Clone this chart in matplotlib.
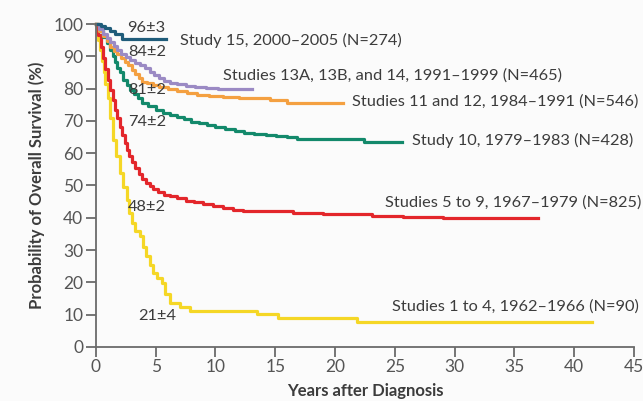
import matplotlib

matplotlib.use("Agg")
import matplotlib.pyplot as plt

# survival curves (years, percent surviving), step-post
t_s15 = [0, 0.4, 0.8, 1.2, 1.6, 2.2, 5.9]
s_s15 = [100, 99.4, 98.7, 97.8, 96.8, 95.3, 95.3]

t_s13 = [0, 0.3, 0.6, 0.9, 1.2, 1.5, 1.8, 2.1, 2.5, 2.9, 3.3, 3.7, 4.1, 4.5, 4.9,
         5.3, 5.7, 6.2, 6.8, 7.5, 8.3, 9.2, 10.2, 11.0, 13.1]
s_s13 = [100, 98.5, 97, 95.8, 94.5, 93.2, 92, 90.8, 89.8, 88.8, 88, 87.2, 86.3, 85.3, 84.3,
         83.3, 82.5, 81.8, 81.3, 80.8, 80.5, 80.2, 80, 80, 80]

t_s11 = [0, 0.3, 0.6, 0.9, 1.2, 1.5, 1.8, 2.1, 2.4, 2.7, 3.0, 3.3, 3.6, 3.9, 4.3, 4.8,
         5.3, 6.0, 6.8, 7.6, 8.5, 9.5, 10.6, 12.0, 13.4, 14.6, 16.0, 20.7]
s_s11 = [100, 98, 96.3, 94.6, 93, 91.8, 90.6, 89.4, 88.3, 87.2, 85.8, 84.5, 83.2, 82.2, 81.6, 81.1,
         80.6, 80.0, 79.4, 78.6, 78.1, 77.8, 77.5, 77.2, 77, 76.6, 75.6, 75.6]

t_s10 = [0, 0.3, 0.6, 0.9, 1.2, 1.4, 1.6, 1.8, 2.0, 2.3, 2.6, 2.9, 3.2, 3.5, 3.9, 4.4,
         5.0, 5.6, 6.2, 6.8, 7.4, 8.0, 8.6, 9.3, 10.0, 10.8, 11.6, 12.4, 13.2, 14.2,
         15.1, 16.0, 16.8, 22.4, 25.6]
s_s10 = [100, 98, 96, 94, 92, 90, 88.2, 86.5, 85, 82.7, 81, 79.6, 78.2, 77, 75.6, 74.5,
         73.5, 72.6, 71.8, 71.2, 70.5, 69.8, 69.2, 68.6, 68.1, 67.6, 66.9, 66.2, 65.8, 65.5,
         65.3, 64.9, 64.3, 63.4, 63.4]

t_s5 = [0, 0.2, 0.4, 0.6, 0.8, 1.0, 1.2, 1.4, 1.6, 1.8, 2.0, 2.2, 2.4, 2.6, 2.8, 3.0,
        3.3, 3.6, 3.9, 4.2, 4.5, 4.8, 5.2, 5.7, 6.2, 6.8, 7.5, 8.2, 9.0, 9.8, 10.6,
        11.5, 12.3, 16.5, 19.0, 23.1, 25.7, 29.0, 37.0]
s_s5 = [100, 96.5, 93, 89.5, 86, 82.7, 79.5, 76.5, 73.5, 70.8, 68, 65.6, 63.2, 61, 59, 57.3,
        55.3, 53.5, 52, 50.8, 49.7, 48.8, 48, 47.2, 46.6, 46, 45.3, 44.8, 44.2, 43.6, 42.9,
        42.5, 42.1, 41.6, 41.1, 40.6, 40.2, 39.8, 39.8]

t_s1 = [0, 0.1, 0.2, 0.35, 0.5, 0.65, 0.8, 1.0, 1.2, 1.45, 1.7, 2.0, 2.3, 2.6, 2.8, 3.0,
        3.3, 3.7, 3.95, 4.2, 4.5, 4.8, 5.1, 5.5, 5.8, 6.2, 7.0, 7.9, 13.5, 15.2, 21.8, 41.5]
s_s1 = [100, 97.5, 95, 92, 88.5, 85, 81.5, 77, 71, 64, 59, 53.8, 49.5, 45.5, 41.5, 38.3,
        36, 34.2, 31, 28, 25.4, 22.8, 21.2, 19.7, 16.5, 13.5, 12.5, 11.2, 10.2, 9.0, 7.7, 7.7]

labels = [
    "Studies 1 to 4, 1962\u20131966 (N=90)",
    "Studies 5 to 9, 1967\u20131979 (N=825)",
    "Study 10, 1979\u20131983 (N=428)",
    "Studies 11 and 12, 1984\u20131991 (N=546)",
    "Studies 13A, 13B, and 14, 1991\u20131999 (N=465)",
    "Study 15, 2000\u20132005 (N=274)",
]
five_year = ["21\u00b14", "48\u00b12", "74\u00b12", "81\u00b12", "84\u00b12", "96\u00b13"]

curves = [(t_s1, s_s1), (t_s5, s_s5), (t_s10, s_s10),
          (t_s11, s_s11), (t_s13, s_s13), (t_s15, s_s15)]
colors = ["#f5d726", "#e3262b", "#13896b", "#f4a041", "#9b8ac4", "#1f5c7a"]
# label anchors (x = left edge, y = centre), data coords
label_pos = [(24.8, 12.4), (24.2, 44.7), (26.4, 63.8), (21.4, 76.0), (10.6, 84.2), (7.0, 95.0)]
fy_pos = [(5.1, 9.6), (4.3, 43.3), (4.3, 69.7), (4.3, 79.6), (4.3, 91.2), (4.2, 98.8)]

plt.rcParams["font.family"] = ["Lato", "DejaVu Sans"]
text_c = "#3c3c3c"
axis_c = "#6a6a6a"

fig = plt.figure(figsize=(6.43, 4.01), dpi=100, facecolor="#fbfbfb")
ax = fig.add_axes([0.149, 0.135, 0.837, 0.805])
ax.set_facecolor("#fbfbfb")

for (t, s), c in zip(curves, colors):
    ax.step(t, s, where="post", color=c, lw=2.3, clip_on=False)

for lab, (x, y) in zip(labels, label_pos):
    ax.text(x, y, lab, fontsize=11.8, color=text_c, ha="left", va="center")
for lab, (x, y) in zip(five_year, fy_pos):
    ax.text(x, y, lab, fontsize=11.8, color=text_c, ha="center", va="center")

ax.set_xlim(0, 45)
ax.set_ylim(0, 100)
ax.set_xticks(range(0, 46, 5))
ax.set_yticks(range(0, 101, 10))
for sp in ["top", "right"]:
    ax.spines[sp].set_visible(False)
for sp in ["left", "bottom"]:
    ax.spines[sp].set_color(axis_c)
    ax.spines[sp].set_linewidth(1.3)
ax.tick_params(direction="out", length=7, width=1.3, color=axis_c,
               labelsize=12.5, labelcolor="#555555", pad=2)

# x label sits right at the bottom edge, as in the reference
fig.text(0.5675, 0.004, "Years after Diagnosis", fontsize=12, fontweight="bold",
         color=text_c, ha="center", va="bottom")
ax.set_ylabel("Probability of Overall Survival (%)", fontsize=12, fontweight="bold",
              color=text_c, labelpad=6)

fig.savefig("out.png", dpi=100, facecolor=fig.get_facecolor())
